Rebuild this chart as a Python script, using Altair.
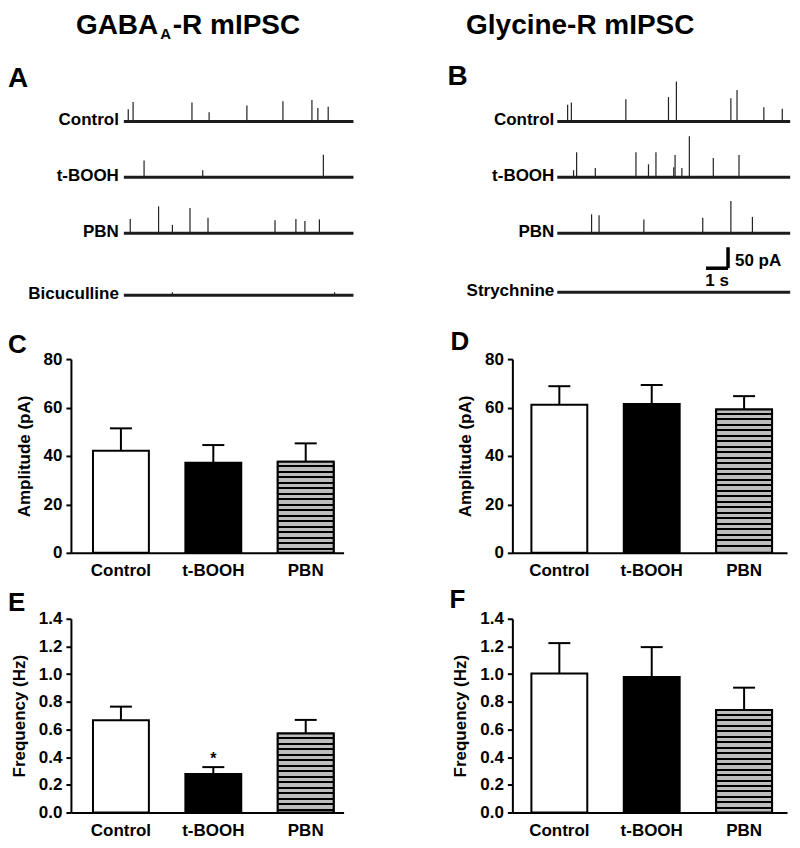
import altair as alt
import pandas as pd

FONT = "Liberation Sans"

# ---------------- data: bar panels ----------------
groups = ["Control", "t-BOOH", "PBN"]
gaba_amp = [42.2, 37.2, 37.6]
gaba_amp_sem = [9.2, 7.3, 7.6]
gly_amp = [61.1, 61.5, 59.2]
gly_amp_sem = [7.7, 7.8, 5.5]
gaba_freq = [0.667, 0.279, 0.570]
gaba_freq_sem = [0.098, 0.049, 0.099]
gly_freq = [1.005, 0.979, 0.740]
gly_freq_sem = [0.219, 0.216, 0.162]
gaba_freq_sig = ["", "*", ""]
no_sig = ["", "", ""]

amp_ticks = [0, 20, 40, 60, 80]
freq_ticks = [0.0, 0.2, 0.4, 0.6, 0.8, 1.0, 1.2, 1.4]

# ---------------- data: traces (spike time s, amplitude pA) ----------------
gaba_traces = ["Control", "t-BOOH", "PBN", "Bicuculline"]
gly_traces = ["Control", "t-BOOH", "PBN", "Strychnine"]
gaba_duration = 10.45
gly_duration = 10.6

gaba_ctrl_t = [0.20, 0.42, 3.10, 3.88, 5.60, 7.24, 8.56, 8.83, 9.30]
gaba_ctrl_pA = [29, 46, 45, 22, 38, 48, 51, 32, 35]
gaba_tbooh_t = [0.92, 3.59, 9.08]
gaba_tbooh_pA = [40, 17, 54]
gaba_pbn_t = [0.29, 1.58, 2.21, 3.01, 3.83, 6.88, 7.83, 8.24, 8.90]
gaba_pbn_pA = [34, 64, 20, 60, 37, 31, 34, 29, 33]
gaba_bic_t = [2.21, 9.59]
gaba_bic_pA = [7, 7]

gly_ctrl_t = [0.47, 0.64, 3.12, 5.06, 5.42, 7.90, 8.18, 9.40, 10.24]
gly_ctrl_pA = [40, 45, 53, 58, 95, 55, 75, 34, 30]
gly_tbooh_t = [0.74, 0.88, 1.73, 3.58, 4.15, 4.49, 5.30, 5.36, 5.67, 6.01, 7.10, 8.27]
gly_tbooh_pA = [17, 60, 22, 60, 31, 60, 24, 53, 22, 98, 46, 53]
gly_pbn_t = [1.56, 1.90, 3.94, 6.62, 7.90, 8.88]
gly_pbn_pA = [45, 43, 33, 37, 77, 39]
gly_stry_t = []
gly_stry_pA = []

scalebar_time = 1.0   # s
scalebar_amp = 50     # pA

# ---------------- layout (not data) ----------------
PX_PER_S = 22.0
TRACE_H = 233
TRACE_YMAX = 554.8
gaba_offsets = [409.5, 276.2, 142.9, -4.8]
gly_offsets = [409.5, 276.2, 142.9, 2.4]
BAR_H = 194
TITLE_Y = -48


def text_layer(txt, x, y, size, align="left", baseline="alphabetic"):
    return alt.Chart(pd.DataFrame({"_": [0]})).mark_text(
        text=txt, font=FONT, fontSize=size, fontWeight="bold", color="black",
        align=align, baseline=baseline
    ).encode(x=alt.value(x), y=alt.value(y))


def trace_panel(names, spikes, duration, width, x0px, offsets, label_x, extra):
    xdom = [-x0px / PX_PER_S, (width - x0px) / PX_PER_S]
    xs = alt.Scale(domain=xdom, nice=False, zero=False)
    ys = alt.Scale(domain=[0, TRACE_YMAX], nice=False, zero=False)
    base_df = pd.DataFrame({"trace": names, "t0": 0.0, "t1": duration, "base": offsets})
    rows = []
    for name, off, (ts, amps) in zip(names, offsets, spikes):
        for t, a in zip(ts, amps):
            rows.append({"trace": name, "t": t, "base": off, "top": off + a})
    spk_df = pd.DataFrame(rows, columns=["trace", "t", "base", "top"])

    baseline = alt.Chart(base_df).mark_rule(strokeWidth=3, color="#1c1c1c").encode(
        x=alt.X("t0:Q", scale=xs, axis=None), x2="t1:Q",
        y=alt.Y("base:Q", scale=ys, axis=None))
    spk = alt.Chart(spk_df).mark_rule(strokeWidth=1.2, color="#222222").encode(
        x=alt.X("t:Q", scale=xs, axis=None),
        y=alt.Y("base:Q", scale=ys, axis=None), y2="top:Q")
    labels = alt.Chart(base_df).mark_text(
        font=FONT, fontSize=17, fontWeight="bold", color="black",
        align="right", baseline="middle", dy=-1
    ).encode(x=alt.value(label_x), y=alt.Y("base:Q", scale=ys, axis=None), text="trace:N")
    layers = [baseline, spk, labels] + extra
    return alt.layer(*layers).properties(width=width, height=TRACE_H)


def stripe_fill(bar_px, period=5.5, line=2.0, gray="#bdbdbd"):
    stops = [{"offset": 0, "color": gray}]
    k = 1
    while k * period <= bar_px - 1:
        s = (k * period - line) / bar_px
        e = (k * period) / bar_px
        stops += [{"offset": s, "color": gray}, {"offset": s, "color": "black"},
                  {"offset": e, "color": "black"}, {"offset": e, "color": gray}]
        k += 1
    stops.append({"offset": 1, "color": gray})
    return {"gradient": "linear", "x1": 0, "y1": 0, "x2": 0, "y2": 1, "stops": stops}


def bar_panel(means, sems, sig, ymax, ticks, fmt, ytitle, width, pad_outer, align, letter, lx, ly):
    df = pd.DataFrame({"group": groups, "mean": means,
                       "top": [m + s for m, s in zip(means, sems)], "sig": sig})
    xs = alt.Scale(domain=groups, paddingInner=0.395, paddingOuter=pad_outer, align=align)
    ys = alt.Scale(domain=[0, ymax], nice=False, zero=True)
    xaxis = alt.Axis(
        title=None, labelAngle=0, ticks=False, bandPosition=0.5, domainWidth=2, domainColor="black",
        labelFont=FONT, labelFontSize=17, labelFontWeight="bold", labelColor="black",
        labelPadding=10, labelBaseline="top", grid=False)
    yaxis = alt.Axis(
        title=ytitle, values=ticks, tickCount=len(ticks), format=fmt, tickSize=5, tickWidth=2,
        tickColor="black", domainWidth=2, domainColor="black", grid=False, labelOverlap=False,
        labelFont=FONT, labelFontSize=17, labelFontWeight="bold", labelColor="black",
        labelPadding=4, titleFont=FONT, titleFontSize=17, titleFontWeight="bold",
        titleColor="black", titlePadding=10)

    def X():
        return alt.X("group:N", scale=xs, sort=groups, axis=xaxis)

    def Y(field):
        return alt.Y(field, scale=ys, axis=yaxis)

    bars = alt.Chart(df).mark_bar(stroke="black", strokeWidth=2).encode(
        x=X(), y=Y("mean:Q"),
        fill=alt.Fill("group:N", scale=alt.Scale(domain=groups, range=["white", "black", "#bdbdbd"]), legend=None))
    pbn_val = means[2]
    pbn = alt.Chart(df).transform_filter(alt.datum.group == "PBN").mark_bar(
        stroke="black", strokeWidth=2, fill=stripe_fill(pbn_val / ymax * BAR_H)
    ).encode(x=X(), y=Y("mean:Q"))
    err = alt.Chart(df).mark_rule(strokeWidth=2, color="black").encode(
        x=X(), y=Y("mean:Q"), y2="top:Q")
    cap = alt.Chart(df).mark_tick(size=22, thickness=2, color="black", opacity=1).encode(
        x=X(), y=Y("top:Q"))
    star = alt.Chart(df).mark_text(font=FONT, fontSize=16, fontWeight="bold", color="black",
                                   baseline="alphabetic", dy=-3).encode(
        x=X(), y=Y("top:Q"), text="sig:N")
    lab = text_layer(letter, lx, ly, 26)
    return alt.layer(bars, err, pbn, cap, star, lab).properties(width=width, height=BAR_H)


# ---------------- trace panels ----------------
gaba_extra = [
    text_layer("A", -63, 27, 28),
    text_layer("GABA", 5, TITLE_Y, 28, baseline="top"),
    text_layer("A", 89.5, TITLE_Y + 14.3, 15, baseline="top"),
    text_layer("-R mIPSC", 102, TITLE_Y, 28, baseline="top"),
]
panelA = trace_panel(gaba_traces,
                     [(gaba_ctrl_t, gaba_ctrl_pA), (gaba_tbooh_t, gaba_tbooh_pA),
                      (gaba_pbn_t, gaba_pbn_pA), (gaba_bic_t, gaba_bic_pA)],
                     gaba_duration, 283, 53, gaba_offsets, 48, gaba_extra)

B_W = 278
B_X0 = 45
sb_end = 7.77
sb_base = 59.5
sb_h = pd.DataFrame({"t0": [sb_end - scalebar_time], "t1": [sb_end], "y": [sb_base]})
sb_v = pd.DataFrame({"t": [sb_end], "y0": [sb_base], "y1": [sb_base + scalebar_amp]})
xsB = alt.Scale(domain=[-B_X0 / PX_PER_S, (B_W - B_X0) / PX_PER_S], nice=False, zero=False)
ysB = alt.Scale(domain=[0, TRACE_YMAX], nice=False, zero=False)
sb_layers = [
    alt.Chart(sb_h).mark_rule(strokeWidth=3.5, color="black").encode(
        x=alt.X("t0:Q", scale=xsB, axis=None), x2="t1:Q", y=alt.Y("y:Q", scale=ysB, axis=None)),
    alt.Chart(sb_v).mark_rule(strokeWidth=3.5, color="black").encode(
        x=alt.X("t:Q", scale=xsB, axis=None), y=alt.Y("y0:Q", scale=ysB, axis=None), y2="y1:Q"),
    alt.Chart(sb_v).transform_calculate(lbl="'%d pA'" % scalebar_amp, ym="datum.y0 + 16.7").mark_text(
        font=FONT, fontSize=17, fontWeight="bold", color="black", align="left",
        baseline="middle", dx=7).encode(
        x=alt.X("t:Q", scale=xsB, axis=None), y=alt.Y("ym:Q", scale=ysB, axis=None), text="lbl:N"),
    alt.Chart(sb_h).transform_calculate(lbl="'%d s'" % scalebar_time, tm="(datum.t0 + datum.t1) / 2").mark_text(
        font=FONT, fontSize=17, fontWeight="bold", color="black", align="center",
        baseline="middle", dy=13).encode(
        x=alt.X("tm:Q", scale=xsB, axis=None), y=alt.Y("y:Q", scale=ysB, axis=None), text="lbl:N"),
]
gly_extra = sb_layers + [
    text_layer("B", -65, 25, 28),
    text_layer("Glycine-R mIPSC", 68, TITLE_Y, 28, align="center", baseline="top"),
]
panelB = trace_panel(gly_traces,
                     [(gly_ctrl_t, gly_ctrl_pA), (gly_tbooh_t, gly_tbooh_pA),
                      (gly_pbn_t, gly_pbn_pA), (gly_stry_t, gly_stry_pA)],
                     gly_duration, B_W, B_X0, gly_offsets, 42, gly_extra)

# ---------------- bar panels ----------------
panelC = bar_panel(gaba_amp, gaba_amp_sem, no_sig, 80, amp_ticks, "d", "Amplitude (pA)",
                   273, 0.173, 0.69, "C", -63, -6)
panelD = bar_panel(gly_amp, gly_amp_sem, no_sig, 80, amp_ticks, "d", "Amplitude (pA)",
                   275, 0.184, 0.56, "D", -62, -9)
panelE = bar_panel(gaba_freq, gaba_freq_sem, gaba_freq_sig, 1.4, freq_ticks, ".1f", "Frequency (Hz)",
                   273, 0.173, 0.69, "E", -63, -8)
panelF = bar_panel(gly_freq, gly_freq_sem, no_sig, 1.4, freq_ticks, ".1f", "Frequency (Hz)",
                   275, 0.184, 0.56, "F", -63, -11)

chart = alt.concat(
    panelA, panelB, panelC, panelD, panelE, panelF,
    columns=2, spacing={"row": 66, "column": 159}, bounds="flush", align="each"
).properties(
    padding={"left": 0, "top": 4, "right": 0, "bottom": 0}, background="white"
).configure(font=FONT).configure_view(stroke=None)

chart.save("out.html", embed_options={"renderer": "svg", "actions": False})
